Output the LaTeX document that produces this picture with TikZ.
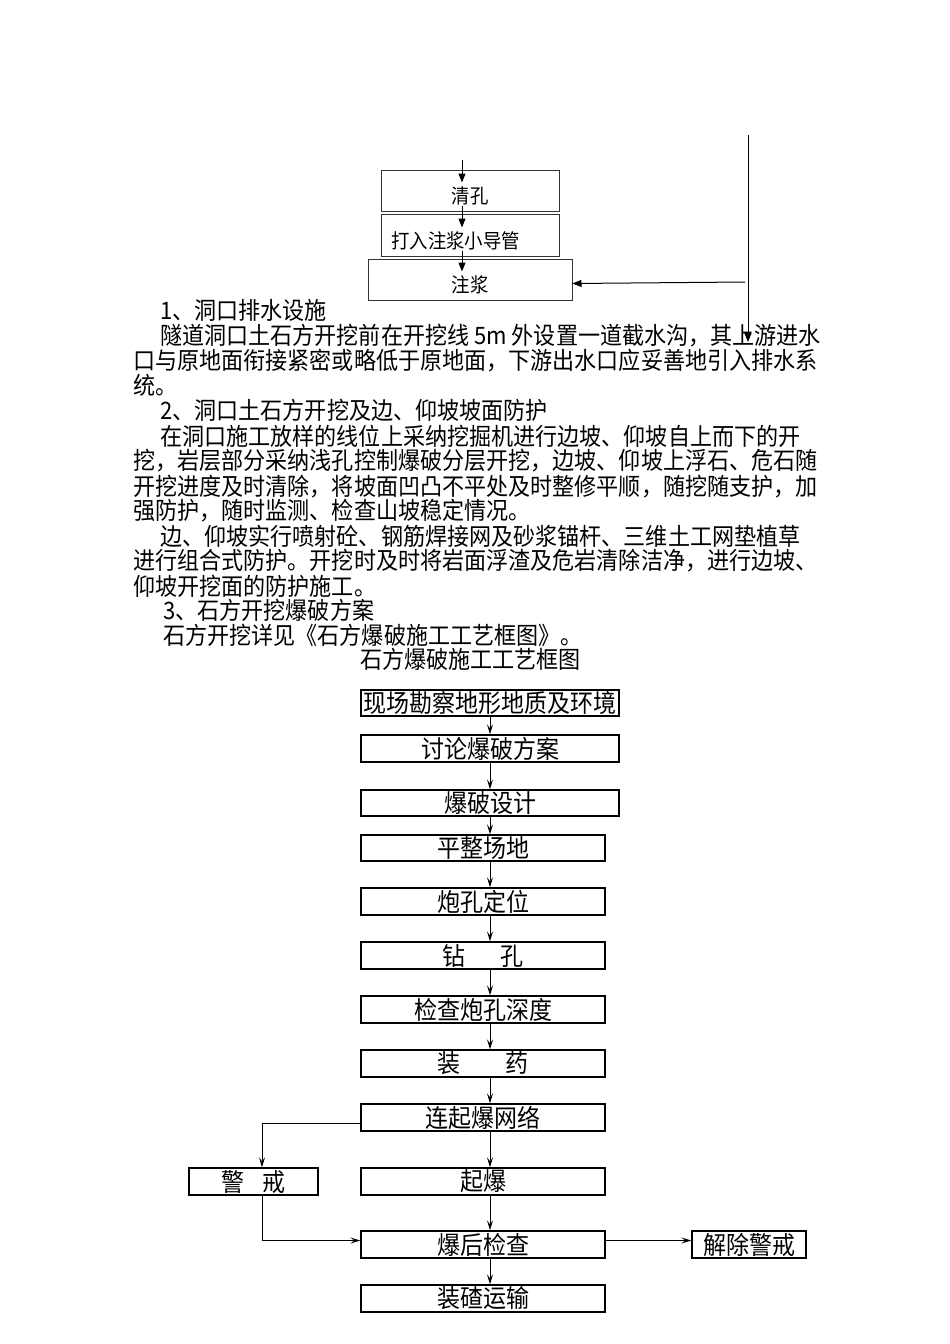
\documentclass[tikz,border=0pt]{standalone}
\usepackage{fontspec}
\setmainfont{Noto Sans CJK SC}[FakeStretch=0.92]
\usetikzlibrary{arrows.meta}

\tikzset{
  smallbox/.style={draw=black!80, line width=1pt, inner sep=0pt},
  smalltext/.style={inner sep=0pt, font=\fontsize{20}{20}\selectfont},
  flowbox/.style={draw, line width=1.3pt, inner sep=0pt, minimum height=27pt, font=\fontsize{25}{25}\selectfont},
  para/.style={anchor=west, inner sep=0pt, font=\fontsize{24}{24}\selectfont},
  tri/.style={line width=1pt, -{Triangle[length=9pt,width=7pt]}},
  flowarr/.style={line width=1pt, -{Stealth[open,length=10pt,width=6pt,inset=4pt]}}
}

\begin{document}
\begin{tikzpicture}[x=1pt,y=-1pt]
  \useasboundingbox (0,0) rectangle (950,1344);

  % grouting boxes at the top
  \node[smallbox, minimum width=178pt, minimum height=41pt] (qk) at (470,190.5) {};
  \node[smallbox, minimum width=178pt, minimum height=42pt] (dr) at (470,235) {};
  \node[smallbox, minimum width=204pt, minimum height=41pt] (zj) at (470,279.5) {};
  \node[smalltext] (qkt) at (470,196) {清孔};
  \node[smalltext, anchor=west] (drt) at (391,241) {打入注浆小导管};
  \node[smalltext] (zjt) at (470,285) {注浆};
  \coordinate (ax) at (462,0);
  \coordinate (qtop) at (462,160);
  \draw[tri] (qtop) -- ([yshift=-13pt]qk.north -| ax);
  \draw[tri] ([yshift=6pt]qk.south -| ax) -- ([yshift=-14pt]dr.north -| ax);
  \draw[tri] ([yshift=6pt]dr.south -| ax) -- ([yshift=-13pt]zj.north -| ax);

  % long line on the right
  \coordinate (rtop) at (748,135);
  \coordinate (rbot) at (748,342);
  \coordinate (rmid) at (745,282);
  \draw[tri] (rtop) -- (rbot);
  \draw[tri] (rmid) -- ([yshift=-4pt]zj.east);

  % text
  \node[para] (t1) at (160,310) {1、洞口排水设施};
  \node[para] (t2) at (160,336) {隧道洞口土石方开挖前在开挖线 5m 外设置一道截水沟，其上游进水};
  \node[para] (t3) at (133,361) {口与原地面衔接紧密或略低于原地面，下游出水口应妥善地引入排水系};
  \node[para] (t4) at (133,385) {统。};
  \node[para] (t5) at (160,410) {2、洞口土石方开挖及边、仰坡坡面防护};
  \node[para] (t6) at (160,436) {在洞口施工放样的线位上采纳挖掘机进行边坡、仰坡自上而下的开};
  \node[para] (t7) at (133,461) {挖，岩层部分采纳浅孔控制爆破分层开挖，边坡、仰坡上浮石、危石随};
  \node[para] (t8) at (133,487) {开挖进度及时清除，将坡面凹凸不平处及时整修平顺，随挖随支护，加};
  \node[para] (t9) at (133,511) {强防护，随时监测、检查山坡稳定情况。};
  \node[para] (t10) at (160,536) {边、仰坡实行喷射砼、钢筋焊接网及砂浆锚杆、三维土工网垫植草};
  \node[para] (t11) at (133,561) {进行组合式防护。开挖时及时将岩面浮渣及危岩清除洁净，进行边坡、};
  \node[para] (t12) at (133,586) {仰坡开挖面的防护施工。};
  \node[para] (t13) at (163,610) {3、石方开挖爆破方案};
  \node[para] (t14) at (163,635) {石方开挖详见《石方爆破施工工艺框图》。};
  \node[para] (t15) at (360,659) {石方爆破施工工艺框图};

  % flow chart
  \coordinate (fx) at (490,0);
  \node[flowbox, minimum width=258pt, minimum height=26pt] (b1) at (490,703) {现场勘察地形地质及环境};
  \node[flowbox, minimum width=258pt] (b2) at (490,748.5) {讨论爆破方案};
  \node[flowbox, minimum width=258pt, minimum height=26pt] (b3) at (490,803) {爆破设计};
  \node[flowbox, minimum width=244pt, minimum height=26pt] (b4) at (483,848) {平整场地};
  \node[flowbox, minimum width=244pt] (b5) at (483,901.5) {炮孔定位};
  \node[flowbox, minimum width=244pt] (b6) at (483,955.5) {钻\hspace{1.4em}孔};
  \node[flowbox, minimum width=244pt] (b7) at (483,1009.5) {检查炮孔深度};
  \node[flowbox, minimum width=244pt] (b8) at (483,1063.5) {装\hspace{1.8em}药};
  \node[flowbox, minimum width=244pt] (b9) at (483,1117.5) {连起爆网络};
  \node[flowbox, minimum width=244pt] (b10) at (483,1181.5) {起爆};
  \node[flowbox, minimum width=244pt] (b11) at (483,1244.5) {爆后检查};
  \node[flowbox, minimum width=244pt] (b12) at (483,1298.5) {装碴运输};
  \node[flowbox, minimum width=129pt] (jj) at (253.5,1181.5) {警\hspace{0.7em}戒};
  \node[flowbox, minimum width=114pt] (jc) at (749,1244.5) {解除警戒};

  \draw[flowarr] (b1.south -| fx) -- (b2.north -| fx);
  \draw[flowarr] (b2.south -| fx) -- (b3.north -| fx);
  \draw[flowarr] (b3.south -| fx) -- (b4.north -| fx);
  \draw[flowarr] (b4.south -| fx) -- (b5.north -| fx);
  \draw[flowarr] (b5.south -| fx) -- (b6.north -| fx);
  \draw[flowarr] (b6.south -| fx) -- (b7.north -| fx);
  \draw[flowarr] (b7.south -| fx) -- (b8.north -| fx);
  \draw[flowarr] (b8.south -| fx) -- (b9.north -| fx);
  \draw[flowarr] (b9.south -| fx) -- (b10.north -| fx);
  \draw[flowarr] (b10.south -| fx) -- (b11.north -| fx);
  \draw[flowarr] (b11.south -| fx) -- (b12.north -| fx);

  % side branch
  \coordinate (lx) at (262,0);
  \draw[flowarr] ([yshift=-6pt]b9.west) -| (jj.north -| lx);
  \draw[flowarr] (jj.south -| lx) |- ([yshift=4pt]b11.west);
  \draw[flowarr] ([yshift=4pt]b11.east) -- ([yshift=4pt]jc.west);
\end{tikzpicture}
\end{document}
